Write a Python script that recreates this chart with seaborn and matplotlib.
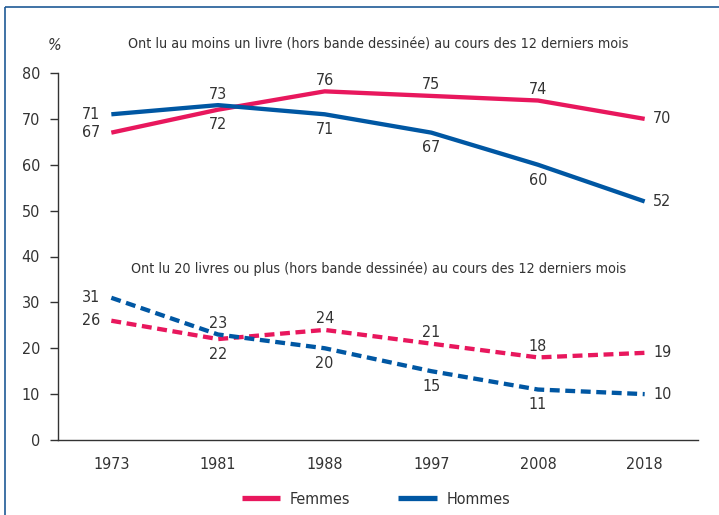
import numpy as np
import pandas as pd
import matplotlib.pyplot as plt
import matplotlib.font_manager as fm
import seaborn as sns
from matplotlib.lines import Line2D

annees = ['1973', '1981', '1988', '1997', '2008', '2018']

# Ont lu au moins un livre
un_livre_femmes = [67, 72, 76, 75, 74, 70]
un_livre_hommes = [71, 73, 71, 67, 60, 52]
# Ont lu 20 livres ou plus
vingt_livres_femmes = [26, 22, 24, 21, 18, 19]
vingt_livres_hommes = [31, 23, 20, 15, 11, 10]

titre_haut = 'Ont lu au moins un livre (hors bande dessinée) au cours des 12 derniers mois'
titre_bas = 'Ont lu 20 livres ou plus (hors bande dessinée) au cours des 12 derniers mois'

rose = '#E8175D'
bleu = '#0057A3'
gris = '#333333'

sns.set_style('white')

# police étroite si disponible
etroites = [f for f in fm.fontManager.ttflist
            if f.stretch in ('condensed', 'semi-condensed', 'extra-condensed')
            or 'Narrow' in f.name or 'Condensed' in f.name]
if etroites:
    plt.rcParams['font.family'] = [etroites[0].name, 'DejaVu Sans']
    plt.rcParams['font.stretch'] = 'condensed'
    taille, taille_titre = 11.5, 10.3
else:
    plt.rcParams['font.family'] = ['Roboto', 'DejaVu Sans']
    taille, taille_titre = 10.5, 9.5
plt.rcParams['lines.solid_capstyle'] = 'butt'
plt.rcParams['lines.dash_capstyle'] = 'butt'

pos = np.arange(len(annees))
rows = []
for sexe, ind, vals in [('Femmes', 'un', un_livre_femmes), ('Hommes', 'un', un_livre_hommes),
                        ('Femmes', 'vingt', vingt_livres_femmes), ('Hommes', 'vingt', vingt_livres_hommes)]:
    for p, v in zip(pos, vals):
        rows.append({'pos': p, 'valeur': v, 'sexe': sexe, 'indicateur': ind})
df = pd.DataFrame(rows)

fig = plt.figure(figsize=(7.19, 5.15), dpi=100)
ax = fig.add_axes([58 / 719, 75 / 515, (698 - 58) / 719, (440 - 73) / 515])

sns.lineplot(data=df, x='pos', y='valeur', hue='sexe', style='indicateur',
             palette={'Femmes': rose, 'Hommes': bleu},
             dashes={'un': '', 'vingt': (2.3, 1.3)},
             linewidth=3.1, legend=False, ax=ax)

# étiquettes de valeurs
def etiquettes(f_vals, h_vals):
    for i, (f, h) in enumerate(zip(f_vals, h_vals)):
        for v, autre in [(f, h), (h, f)]:
            if i == 0:
                off, ha, va = (-8, 0), 'right', 'center'
            elif i == len(f_vals) - 1:
                off, ha, va = (6, 0), 'left', 'center'
            elif v >= autre:
                off, ha, va = (0, 8), 'center', 'center'
            else:
                off, ha, va = (0, -11), 'center', 'center'
            ax.annotate(str(v), (pos[i], v), xytext=off, textcoords='offset points',
                        ha=ha, va=va, fontsize=taille, color=gris)

etiquettes(un_livre_femmes, un_livre_hommes)
etiquettes(vingt_livres_femmes, vingt_livres_hommes)

ax.set_xlim(-0.5, len(annees) - 0.5)
ax.set_ylim(0, 80)
ax.set_yticks(range(0, 81, 10))
ax.set_xticks(pos)
ax.set_xticklabels(annees)
ax.set_xticks(np.arange(-0.5, len(annees)), minor=True)
ax.set_xlabel('')
ax.set_ylabel('')
ax.tick_params(axis='x', which='major', length=0, pad=12, labelsize=taille, labelcolor=gris)
ax.tick_params(axis='x', which='minor', length=6, width=1, color=gris, direction='out')
ax.tick_params(axis='y', length=6, width=1, color=gris, pad=7, labelsize=taille,
               labelcolor=gris, left=True, direction='out')
for s in ['top', 'right']:
    ax.spines[s].set_visible(False)
for s in ['left', 'bottom']:
    ax.spines[s].set_color(gris)
    ax.spines[s].set_linewidth(1)

fig.text(378 / 719, 1 - 45 / 515, titre_haut, ha='center', va='center', fontsize=taille_titre, color=gris)
fig.text(379 / 719, 1 - 269 / 515, titre_bas, ha='center', va='center', fontsize=taille_titre, color=gris)
fig.text(55 / 719, 1 - 45 / 515, '%', ha='center', va='center', fontsize=taille,
         style='italic', color=gris)

handles = [Line2D([], [], color=rose, lw=3.8), Line2D([], [], color=bleu, lw=3.8)]
fig.legend(handles, ['Femmes', 'Hommes'], loc='center', bbox_to_anchor=(376 / 719, 1 - 499 / 515),
           ncol=2, frameon=False, fontsize=taille, handlelength=2.4, handletextpad=0.6,
           columnspacing=3.0, labelcolor=gris)

# cadre
fig.add_artist(Line2D([5 / 719, 5 / 719], [0, 1 - 7 / 515], color='#1F5A96', lw=1.2))
fig.add_artist(Line2D([5 / 719, 1], [1 - 7 / 515, 1 - 7 / 515], color='#1F5A96', lw=1.2))

fig.savefig('out.png', dpi=100)
